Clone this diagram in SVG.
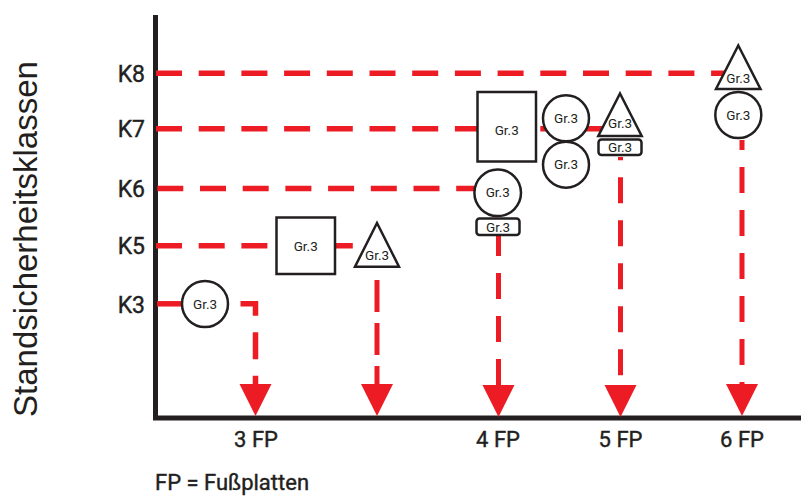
<svg xmlns="http://www.w3.org/2000/svg" xmlns:xlink="http://www.w3.org/1999/xlink" width="801" height="496" viewBox="0 0 801 496">
<style>
.ax{stroke:#231f20;stroke-width:5;fill:none}
.dh{stroke:#ed1c24;stroke-width:5.5;fill:none;stroke-dasharray:26 16.7}
.dv{stroke:#ed1c24;stroke-width:5;fill:none;stroke-dasharray:26 17}
.sol{stroke:#ed1c24;stroke-width:5.5;fill:none}
.ah{fill:#ed1c24}
.nd{fill:#fff;stroke:#231f20;stroke-width:2.5}
.t{font-family:Roboto,"Liberation Sans",Arial,sans-serif;fill:#231f20}
.g{font-size:13.5px;text-anchor:middle}
.k{font-size:23px;text-anchor:end;stroke:#231f20;stroke-width:0.4}
.fp{font-size:22px;text-anchor:middle;stroke:#231f20;stroke-width:0.4}
</style>
<defs>
<path id="ah" d="M-16,0 H16 L0,32 Z"/>
</defs>
<rect width="801" height="496" fill="#fff"/>
<g id="axes">
<line class="ax" x1="155.5" y1="15" x2="155.5" y2="420"/>
<line class="ax" x1="153" y1="418" x2="801" y2="418"/>
<text font-family="'Liberation Sans',Arial,sans-serif" fill="#231f20" font-size="33" text-anchor="middle" transform="translate(37,239) rotate(-90)">Standsicherheitsklassen</text>
<text class="t k" x="145" y="81.5">K8</text>
<text class="t k" x="145" y="137">K7</text>
<text class="t k" x="145" y="196.5">K6</text>
<text class="t k" x="145" y="254">K5</text>
<text class="t k" x="145" y="313">K3</text>
<text class="t fp" x="256" y="446.5">3 FP</text>
<text class="t fp" x="498" y="446.5">4 FP</text>
<text class="t fp" x="620.5" y="446.5">5 FP</text>
<text class="t fp" x="742" y="446.5">6 FP</text>
<text class="t" font-size="22" stroke="#231f20" stroke-width="0.4" x="155" y="490">FP = Fußplatten</text>
</g>
<g id="connectors">
<line class="dh" x1="156" y1="73.3" x2="737" y2="73.3"/>
<line class="dh" x1="156" y1="128.8" x2="606" y2="128.8"/>
<line class="dh" x1="157.3" y1="188.5" x2="480" y2="188.5"/>
<line class="dh" x1="156" y1="245.8" x2="378" y2="245.8"/>
<line class="sol" x1="157" y1="303.8" x2="185" y2="303.8"/>
<path class="dv" d="M240.5,303.8 H255.5 V392" style="stroke-dasharray:27 16.5;stroke-width:5.5"/>
<line class="dv" x1="377" y1="280" x2="377" y2="392" style="stroke-dasharray:32 11"/>
<line class="dv" x1="498.5" y1="236" x2="498.5" y2="392" stroke-dashoffset="6"/>
<line class="dv" x1="620.5" y1="157" x2="620.5" y2="392" stroke-dashoffset="22.7"/>
<line class="dv" x1="742" y1="140" x2="742" y2="392" stroke-dashoffset="16"/>
<use href="#ah" xlink:href="#ah" class="ah" x="255.5" y="384"/>
<use href="#ah" xlink:href="#ah" class="ah" x="377" y="384"/>
<use href="#ah" xlink:href="#ah" class="ah" x="498.5" y="385"/>
<use href="#ah" xlink:href="#ah" class="ah" x="620.5" y="385"/>
<use href="#ah" xlink:href="#ah" class="ah" x="742" y="384"/>
</g>
<g id="node-k3-circle">
<circle class="nd" cx="205" cy="304" r="23"/>
<text class="t g" x="205" y="308.5">Gr.3</text>
</g>
<g id="node-k5-box">
<rect class="nd" x="276.5" y="217.5" width="58.5" height="56.5"/>
<text class="t g" x="305.7" y="251">Gr.3</text>
</g>
<g id="node-k5-triangle">
<polygon class="nd" points="377,223 399,266.7 355,266.7"/>
<text class="t g" x="377" y="260">Gr.3</text>
</g>
<g id="node-k7-box">
<rect class="nd" x="477.5" y="92" width="58.5" height="69.5"/>
<text class="t g" x="506.7" y="134.5">Gr.3</text>
</g>
<g id="node-k6-circle">
<circle class="nd" cx="497.7" cy="192.8" r="23.3"/>
<text class="t g" x="497.7" y="197.3">Gr.3</text>
</g>
<g id="node-k6-tag">
<rect class="nd" x="476.5" y="218.5" width="43" height="16.5" rx="3"/>
<text class="t g" x="498" y="231.7">Gr.3</text>
</g>
<g id="node-k7-circle-top">
<circle class="nd" cx="566" cy="118.3" r="23"/>
<text class="t g" x="566" y="122.8">Gr.3</text>
</g>
<g id="node-k7-circle-bottom">
<circle class="nd" cx="566" cy="164.7" r="23"/>
<text class="t g" x="566" y="169.2">Gr.3</text>
</g>
<g id="node-5fp-triangle">
<polygon class="nd" points="620,93.5 641.7,136 598.3,136"/>
<text class="t g" x="620" y="128">Gr.3</text>
</g>
<g id="node-5fp-tag">
<rect class="nd" x="598.5" y="139.5" width="43" height="15.5" rx="3"/>
<text class="t g" x="620" y="152">Gr.3</text>
</g>
<g id="node-6fp-triangle">
<polygon class="nd" points="738.3,45.5 760.5,89 716,89"/>
<text class="t g" x="738.3" y="82.5">Gr.3</text>
</g>
<g id="node-6fp-circle">
<circle class="nd" cx="738.3" cy="115" r="23"/>
<text class="t g" x="738.3" y="119.5">Gr.3</text>
</g>
</svg>
